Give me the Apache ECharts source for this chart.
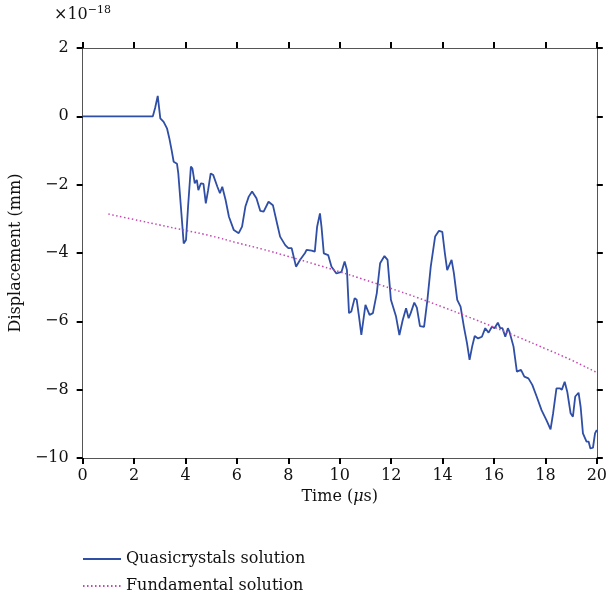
<!DOCTYPE html>
<html>
<head>
<meta charset="utf-8">
<script src="https://cdn.jsdelivr.net/npm/echarts@6/dist/echarts.min.js"></script>
<style>
  body { margin: 0; background: #fff; }
  #chart { width: 610px; height: 600px; }
</style>
</head>
<body>
<div id="chart"></div>
<script>
// Quasicrystals solution, time in μs, displacement in 1e-18 mm
const timeQ = [0, 2.73, 2.82, 2.92, 3.02, 3.15, 3.28, 3.37, 3.46, 3.54, 3.67, 3.72, 3.82, 3.93, 4.02, 4.1, 4.21, 4.27, 4.36, 4.44, 4.5, 4.6, 4.7, 4.79, 4.88, 4.98, 5.08, 5.24, 5.34, 5.43, 5.56, 5.69, 5.88, 6.07, 6.2, 6.33, 6.46, 6.59, 6.76, 6.91, 7.04, 7.23, 7.4, 7.56, 7.68, 7.88, 8.0, 8.13, 8.3, 8.46, 8.65, 8.71, 8.91, 9.03, 9.12, 9.23, 9.29, 9.38, 9.55, 9.68, 9.87, 10.07, 10.19, 10.28, 10.36, 10.45, 10.58, 10.66, 10.75, 10.84, 11.0, 11.16, 11.29, 11.44, 11.57, 11.74, 11.86, 11.99, 12.19, 12.32, 12.45, 12.58, 12.68, 12.76, 12.9, 13.0, 13.12, 13.28, 13.41, 13.54, 13.71, 13.86, 13.99, 14.09, 14.18, 14.35, 14.44, 14.57, 14.7, 14.83, 14.95, 15.05, 15.15, 15.25, 15.38, 15.53, 15.66, 15.79, 15.92, 16.02, 16.15, 16.24, 16.33, 16.44, 16.54, 16.6, 16.76, 16.89, 17.05, 17.18, 17.34, 17.49, 17.66, 17.85, 18.04, 18.2, 18.3, 18.43, 18.56, 18.64, 18.75, 18.85, 18.98, 19.07, 19.16, 19.29, 19.37, 19.46, 19.6, 19.68, 19.75, 19.85, 19.93, 20.0];
const dispQ = [0, 0, 0.25, 0.6, -0.06, -0.16, -0.35, -0.64, -0.99, -1.33, -1.39, -1.67, -2.64, -3.72, -3.62, -2.64, -1.47, -1.53, -1.96, -1.86, -2.16, -1.96, -1.98, -2.55, -2.16, -1.67, -1.72, -2.06, -2.25, -2.06, -2.45, -2.94, -3.33, -3.42, -3.23, -2.64, -2.35, -2.2, -2.4, -2.77, -2.79, -2.5, -2.6, -3.13, -3.52, -3.77, -3.86, -3.86, -4.4, -4.2, -4.0, -3.91, -3.93, -3.96, -3.23, -2.84, -3.23, -4.01, -4.06, -4.4, -4.6, -4.55, -4.25, -4.5, -5.76, -5.71, -5.32, -5.37, -5.86, -6.4, -5.52, -5.81, -5.76, -5.18, -4.3, -4.09, -4.2, -5.37, -5.86, -6.4, -5.96, -5.62, -5.91, -5.76, -5.45, -5.6, -6.14, -6.16, -5.37, -4.4, -3.52, -3.35, -3.38, -4.01, -4.5, -4.2, -4.59, -5.37, -5.57, -6.16, -6.64, -7.13, -6.74, -6.43, -6.5, -6.45, -6.2, -6.33, -6.16, -6.2, -6.04, -6.2, -6.2, -6.45, -6.2, -6.3, -6.74, -7.47, -7.42, -7.62, -7.67, -7.86, -8.2, -8.6, -8.89, -9.16, -8.69, -7.96, -7.96, -8.0, -7.77, -8.06, -8.69, -8.79, -8.2, -8.09, -8.5, -9.28, -9.52, -9.52, -9.72, -9.7, -9.28, -9.18];

// Fundamental solution
const timeF = [1, 2, 3, 4, 5, 6, 7, 8, 9, 10, 11, 12, 13, 14, 15, 16, 17, 18, 19, 20];
const dispF = [-2.86, -3.02, -3.18, -3.34, -3.5, -3.7, -3.89, -4.1, -4.32, -4.55, -4.79, -5.04, -5.3, -5.58, -5.87, -6.17, -6.48, -6.8, -7.13, -7.5];

const xTicks = [0, 2, 4, 6, 8, 10, 12, 14, 16, 18, 20];
const yTicks = [-10, -8, -6, -4, -2, 0, 2];

const font = 'DejaVu Serif';
const blue = '#2f4ea6';
const pink = '#c447b4';

const chart = echarts.init(document.getElementById('chart'));

const axisCommon = {
  axisLine: { show: true, onZero: false, lineStyle: { color: '#555', width: 1 } },
  axisTick: { show: true, inside: false, length: 6, lineStyle: { color: '#000', width: 2 } },
  splitLine: { show: false }
};

chart.setOption({
  animation: false,
  textStyle: { fontFamily: font },
  grid: { left: 81, right: 11, top: 48, bottom: 142 },
  xAxis: [
    Object.assign({
      type: 'value', min: xTicks[0], max: xTicks[xTicks.length - 1], interval: 2,
      name: 'Time ({i|μ}s)', nameLocation: 'middle', nameGap: 28,
      nameTextStyle: {
        fontFamily: font, fontSize: 16, color: '#111',
        rich: { i: { fontFamily: font, fontSize: 16, fontStyle: 'italic', color: '#111' } }
      },
      axisLabel: { fontFamily: font, fontSize: 16, color: '#111', margin: 10 }
    }, axisCommon),
    Object.assign({
      type: 'value', position: 'top', min: 0, max: 20, interval: 2,
      axisLabel: { show: false }
    }, axisCommon)
  ],
  yAxis: [
    Object.assign({
      type: 'value', min: yTicks[0], max: yTicks[yTicks.length - 1], interval: 2,
      name: 'Displacement (mm)', nameLocation: 'middle', nameGap: 54, nameRotate: 90,
      nameTextStyle: { fontFamily: font, fontSize: 16, color: '#111' },
      axisLabel: {
        fontFamily: font, fontSize: 16, color: '#111', margin: 14,
        formatter: v => String(v).replace('-', '\u2212')
      }
    }, axisCommon),
    Object.assign({
      type: 'value', position: 'right', min: -10, max: 2, interval: 2,
      axisLabel: { show: false }
    }, axisCommon)
  ],
  legend: {
    orient: 'vertical', left: 77, top: 546, height: 80, itemWidth: 38, itemHeight: 10, itemGap: 11,
    itemStyle: { opacity: 0 },
    textStyle: { fontFamily: font, fontSize: 16, color: '#111' },
    data: ['Quasicrystals solution', 'Fundamental solution']
  },
  graphic: [{
    type: 'text', left: 54, top: 5,
    style: {
      text: '×10{s|−18}', fontFamily: font, fontSize: 16, fill: '#111',
      rich: { s: { fontFamily: font, fontSize: 11, verticalAlign: 'top', padding: [0, 0, 8, 0] } }
    }
  }],
  series: [
    {
      name: 'Quasicrystals solution', type: 'line', showSymbol: false, symbol: 'none',
      data: timeQ.map((t, i) => [t, dispQ[i]]),
      lineStyle: { color: blue, width: 1.8 }, itemStyle: { color: blue }
    },
    {
      name: 'Fundamental solution', type: 'line', showSymbol: false, symbol: 'none', smooth: true,
      data: timeF.map((t, i) => [t, dispF[i]]),
      lineStyle: { color: pink, width: 1.5, type: [1.5, 2.5] }, itemStyle: { color: pink }
    }
  ]
});
</script>
</body>
</html>
